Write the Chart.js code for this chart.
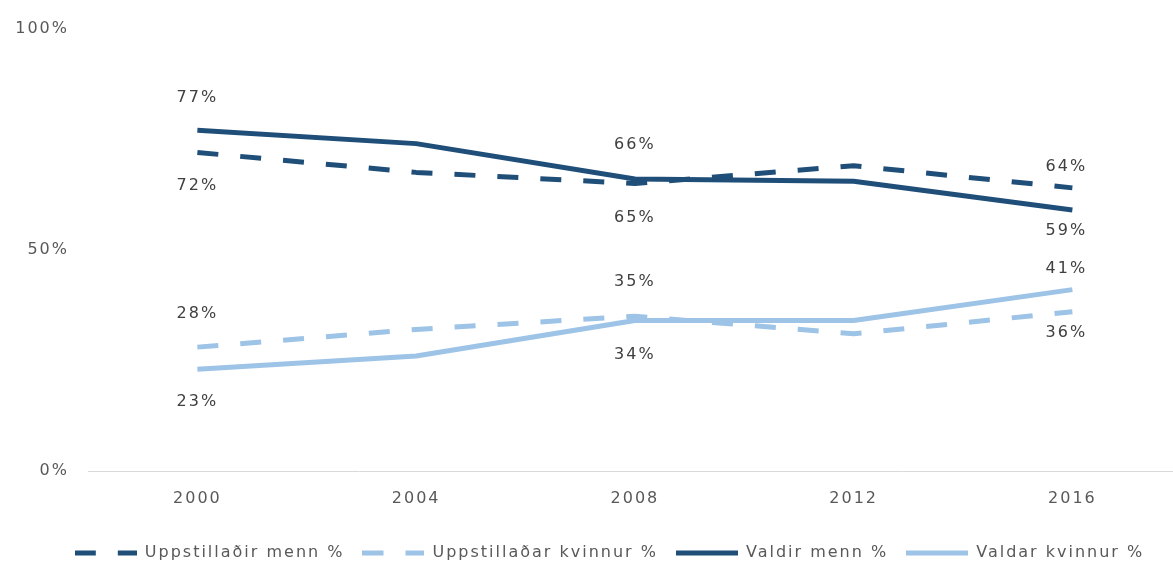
<!DOCTYPE html>
<html>
<head>
<meta charset="utf-8">
<script src="https://cdn.jsdelivr.net/npm/chart.js@4"></script>
<style>
    html, body { margin: 0; padding: 0; background: #fff; }
    #wrap { width: 1173px; height: 571px; }
</style>
</head>
<body>
<div id="wrap"><canvas id="chart"></canvas></div>
<script>
// Data
const years = [2000, 2004, 2008, 2012, 2016];
const uppstilladirMenn = [72, 67.5, 65, 69, 64];
const uppstilladarKvinnur = [28, 32, 35, 31, 36];
const valdirMenn = [77, 74, 66, 65.5, 59];
const valdarKvinnur = [23, 26, 34, 34, 41];
const yTicks = [0, 50, 100];
const labelledYears = [2000, 2008, 2016];

const DARK = '#1f4e79';
const LIGHT = '#9dc3e6';
const TEXT = '#595959';
const FONT = "'DejaVu Sans', Arial, sans-serif";
const DASH = [21, 22];
const SAMPLE_W = 62;

function points(values) {
    return years.map((y, i) => ({ x: y, y: values[i] }));
}

// legend sample as a small picture, so the dash shows in the legend
function sample(color, dash) {
    const c = document.createElement('canvas');
    c.width = SAMPLE_W;
    c.height = 8;
    const g = c.getContext('2d');
    g.strokeStyle = color;
    g.lineWidth = 5;
    g.setLineDash(dash);
    g.beginPath();
    g.moveTo(0, 4);
    g.lineTo(SAMPLE_W, 4);
    g.stroke();
    return c;
}

// the original text is set wide, so space the letters a little
// (canvas resizes reset the context, so set it again before layout and draw)
function widen(chart) {
    chart.ctx.letterSpacing = '2px';
}
const wideText = {
    id: 'wideText',
    beforeUpdate: widen,
    beforeLayout: widen,
    beforeDraw: widen,
    afterLayout(chart) {
        // legend sits a little right of centre in the original
        if (chart.legend) {
            chart.legend.left += 23;
            chart.legend.right += 23;
        }
    }
};

// Value labels: in each pair (dark / light) the higher line gets its label above
const valueLabels = {
    id: 'valueLabels',
    afterDatasetsDraw(chart, args, opts) {
        const ctx = chart.ctx;
        ctx.save();
        ctx.font = opts.font;
        ctx.fillStyle = opts.color;
        ctx.textAlign = 'center';
        ctx.textBaseline = 'middle';
        opts.pairs.forEach(pair => {
            labelledYears.forEach(year => {
                const i = years.indexOf(year);
                const a = chart.data.datasets[pair[0]].data[i].y;
                const b = chart.data.datasets[pair[1]].data[i].y;
                pair.forEach(ds => {
                    const el = chart.getDatasetMeta(ds).data[i];
                    const v = chart.data.datasets[ds].data[i].y;
                    const other = ds === pair[0] ? b : a;
                    const gap = opts.gap[year];
                    ctx.fillText(Math.round(v) + '%', el.x + (opts.dx[year] || 0), el.y + (v >= other ? -gap : gap));
                });
            });
        });
        ctx.restore();
    }
};

new Chart(document.getElementById('chart'), {
    type: 'line',
    data: {
        datasets: [
            {
                label: 'Uppstillaðir menn %',
                data: points(uppstilladirMenn),
                borderColor: DARK,
                backgroundColor: DARK,
                borderWidth: 5,
                borderDash: DASH,
                pointStyle: sample(DARK, DASH)
            },
            {
                label: 'Uppstillaðar kvinnur %',
                data: points(uppstilladarKvinnur),
                borderColor: LIGHT,
                backgroundColor: LIGHT,
                borderWidth: 5,
                borderDash: DASH,
                pointStyle: sample(LIGHT, DASH)
            },
            {
                label: 'Valdir menn %',
                data: points(valdirMenn),
                borderColor: DARK,
                backgroundColor: DARK,
                borderWidth: 5,
                pointStyle: sample(DARK, [])
            },
            {
                label: 'Valdar kvinnur %',
                data: points(valdarKvinnur),
                borderColor: LIGHT,
                backgroundColor: LIGHT,
                borderWidth: 5,
                pointStyle: sample(LIGHT, [])
            }
        ]
    },
    options: {
        responsive: true,
        maintainAspectRatio: false,
        animation: false,
        layout: { padding: { left: 0, right: 0, top: 16, bottom: 0 } },
        elements: {
            point: { radius: 0, hoverRadius: 0 },
            line: { tension: 0, borderCapStyle: 'butt', borderJoinStyle: 'round' }
        },
        scales: {
            x: {
                type: 'linear',
                min: 1998,
                max: 2017.84,
                afterBuildTicks: scale => { scale.ticks = years.map(v => ({ value: v })); },
                grid: { display: false, drawTicks: false },
                border: { display: true, color: '#d9d9d9', width: 1 },
                ticks: {
                    callback: v => String(v),
                    color: TEXT,
                    font: { family: FONT, size: 16 },
                    padding: 18,
                    maxRotation: 0
                },
                afterFit: scale => { scale.height = 56; }
            },
            y: {
                min: 0,
                max: 100,
                afterBuildTicks: scale => { scale.ticks = yTicks.map(v => ({ value: v })); },
                grid: { display: false, drawTicks: false },
                border: { display: false },
                ticks: {
                    callback: v => v + '%',
                    color: TEXT,
                    font: { family: FONT, size: 16 },
                    padding: 19
                },
                afterFit: scale => { scale.width = 88; }
            }
        },
        plugins: {
            legend: {
                position: 'bottom',
                labels: {
                    usePointStyle: true,
                    pointStyleWidth: SAMPLE_W,
                    color: TEXT,
                    font: { family: FONT, size: 16 },
                    padding: 18
                }
            },
            tooltip: { enabled: false },
            valueLabels: {
                font: '16px ' + FONT,
                color: '#404040',
                pairs: [[2, 0], [1, 3]],
                gap: { 2000: 33, 2008: 34, 2016: 21 },
                dx: { 2016: -6 }
            }
        }
    },
    plugins: [wideText, valueLabels]
});
</script>
</body>
</html>
